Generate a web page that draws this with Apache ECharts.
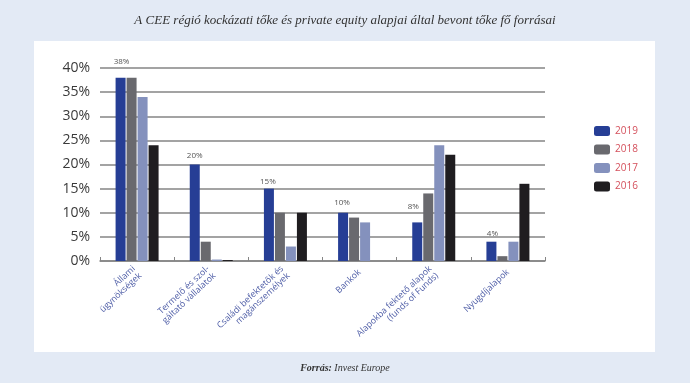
<!DOCTYPE html>
<html>
<head>
<meta charset="utf-8">
<script src="https://cdn.jsdelivr.net/npm/echarts@6/dist/echarts.min.js"></script>
<style>
html,body{margin:0;padding:0;background:#e3eaf5;}
#c{width:690px;height:383px;}
</style>
</head>
<body>
<div id="c"></div>
<script>
var categories = [
  "Állami\nügynökségek",
  "Termelő és szol-\ngáltató vállalatok",
  "Családi befektetők és\nmagánszemélyek",
  "Bankok",
  "Alapokba fektető alapok\n(funds of Funds)",
  "Nyugdíjalapok"
];
var years = ["2019", "2018", "2017", "2016"];
var v2019 = [38, 20, 15, 10, 8, 4];
var v2018 = [38, 4, 10, 9, 14, 1];
var v2017 = [34, 0.3, 3, 8, 24, 4];
var v2016 = [24, 0.2, 10, 0, 22, 16];
var yTicks = [0, 5, 10, 15, 20, 25, 30, 35, 40];

var colors = ["#263e95", "#69696e", "#8491bd", "#1f1d20"];
var labelDist = [12, 5, 3, 6, 12, 4];
var labelDx = [1, 0, -1, -1, -4, 1];
var seriesValues = [v2019, v2018, v2017, v2016];

var chart = echarts.init(document.getElementById('c'));
var series = years.map(function (y, i) {
  var vals = seriesValues[i];
  var data = vals;
  if (i === 0) {
    data = vals.map(function (v, k) {
      return { value: v, label: { distance: labelDist[k], offset: [labelDx[k], 0] } };
    });
  }
  var s = {
    name: y,
    type: 'bar',
    data: data,
    barWidth: 10,
    barGap: '10%',
    itemStyle: { color: colors[i] },
    z: 3
  };
  if (i === 0) {
    s.label = {
      show: true,
      position: 'top',
      formatter: '{c}%',
      fontSize: 8,
      color: '#555',
      fontFamily: 'Open Sans'
    };
  }
  return s;
});

chart.setOption({
  backgroundColor: '#e3eaf5',
  animation: false,
  title: {
    text: 'A CEE régió kockázati tőke és private equity alapjai által bevont tőke fő forrásai',
    left: 'center',
    top: 9,
    textStyle: { fontFamily: 'Liberation Serif', fontStyle: 'italic', fontWeight: 'normal', fontSize: 13, color: '#333' }
  },
  graphic: [
    { type: 'rect', shape: { x: 34, y: 41, width: 621, height: 311 }, style: { fill: '#ffffff' }, z: -10, silent: true },
    { type: 'text', left: 'center', top: 363, style: { rich: { b: { fontWeight: 'bold', fontStyle: 'italic', fontFamily: 'Liberation Serif', fontSize: 10, fill: '#333' }, n: { fontStyle: 'italic', fontFamily: 'Liberation Serif', fontSize: 10, fill: '#333' } }, text: '{b|Forrás:}{n| Invest Europe}' } }
  ],
  legend: {
    orient: 'vertical',
    left: 589,
    top: 121,
    itemWidth: 16,
    itemHeight: 10,
    itemGap: 8.5,
    icon: 'roundRect',
    textStyle: { color: '#d4505c', fontSize: 10, fontFamily: 'Open Sans' },
    data: years
  },
  grid: { left: 100, right: 145, top: 68, bottom: 122, containLabel: false },
  xAxis: {
    type: 'category',
    data: categories,
    axisLine: { lineStyle: { color: '#858585', width: 1.5 } },
    axisTick: { show: true, inside: true, length: 4, lineStyle: { color: '#858585' } },
    axisLabel: { rotate: 43, interval: 0, fontSize: 8.8, lineHeight: 9.5, color: '#4d5ca6', margin: 10, fontFamily: 'Open Sans' }
  },
  yAxis: {
    type: 'value',
    min: yTicks[0],
    max: yTicks[yTicks.length - 1],
    interval: 5,
    axisLine: { show: false },
    axisTick: { show: false },
    splitLine: { lineStyle: { color: '#858585', width: 1.5 } },
    axisLabel: { formatter: '{value}%', fontSize: 14, color: '#3a3a3a', margin: 10, fontFamily: 'Open Sans' }
  },
  series: series
});
</script>
</body>
</html>
